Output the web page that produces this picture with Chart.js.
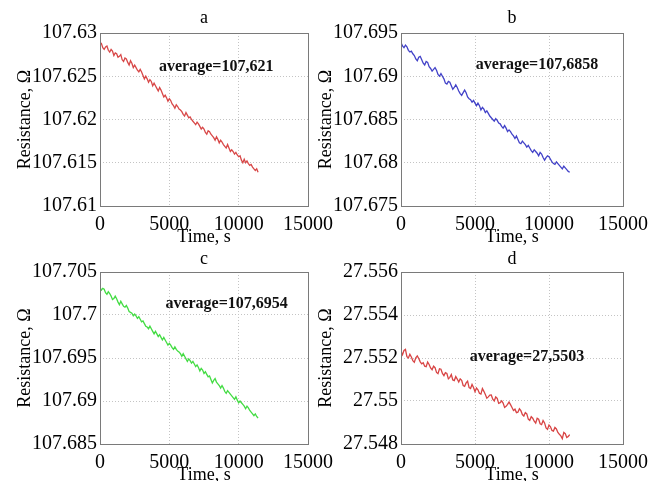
<!DOCTYPE html>
<html><head><meta charset="utf-8">
<script src="https://cdn.jsdelivr.net/npm/chart.js@4/dist/chart.umd.min.js"></script>
<style>
html,body{margin:0;padding:0;background:#fff;}
#wrap{position:relative;width:656px;height:481px;overflow:hidden;background:#fff;}
canvas{position:absolute;}
</style></head><body>
<div id="wrap">
<canvas id="ca" style="left:0px;top:0px;width:340px;height:248px" width="340" height="248"></canvas>
<canvas id="cb" style="left:300px;top:0px;width:356px;height:248px" width="356" height="248"></canvas>
<canvas id="cc" style="left:0px;top:240px;width:340px;height:250px" width="340" height="250"></canvas>
<canvas id="cd" style="left:300px;top:240px;width:356px;height:250px" width="356" height="250"></canvas>
</div>
<script>
// ---- data ----
const panelLetters = ['a', 'b', 'c', 'd'];
const averageLabels = ['average=107,621', 'average=107,6858', 'average=107,6954', 'average=27,5503'];
const xTitle = 'Time, s';
const yTitle = 'Resistance, \u03A9';

const timeS = [0,100,200,300,400,500,600,700,800,900,1000,1100,1200,1300,1400,1500,1600,1700,1800,1900,2000,2100,2200,2300,2400,2500,2600,2700,2800,2900,3000,3100,3200,3300,3400,3500,3600,3700,3800,3900,4000,4100,4200,4300,4400,4500,4600,4700,4800,4900,5000,5100,5200,5300,5400,5500,5600,5700,5800,5900,6000,6100,6200,6300,6400,6500,6600,6700,6800,6900,7000,7100,7200,7300,7400,7500,7600,7700,7800,7900,8000,8100,8200,8300,8400,8500,8600,8700,8800,8900,9000,9100,9200,9300,9400,9500,9600,9700,9800,9900,10000,10100,10200,10300,10400,10500,10600,10700,10800,10900,11000,11100,11200,11300,11400];

const resistA = [107.6287,107.6288,107.6283,107.6281,107.6284,107.6285,107.6280,107.6278,107.6281,107.6279,107.6274,107.6277,107.6276,107.6272,107.6273,107.6275,107.6269,107.6267,107.6271,107.6270,107.6266,107.6263,107.6268,107.6265,107.6260,107.6263,107.6260,107.6257,107.6255,107.6258,107.6255,107.6251,107.6247,107.6250,107.6247,107.6243,107.6246,107.6244,107.6239,107.6242,107.6239,107.6236,107.6233,107.6237,107.6234,107.6230,107.6226,107.6228,107.6225,107.6221,107.6224,107.6222,107.6218,107.6216,107.6213,107.6217,107.6215,107.6212,107.6211,107.6209,107.6206,107.6204,107.6208,107.6205,107.6202,107.6203,107.6200,107.6198,107.6196,107.6194,107.6197,107.6195,107.6192,107.6189,107.6191,107.6189,107.6185,107.6183,107.6187,107.6186,107.6183,107.6181,107.6179,107.6176,107.6180,107.6177,107.6173,107.6176,107.6174,107.6171,107.6169,107.6167,107.6171,107.6167,107.6163,107.6165,107.6163,107.6160,107.6162,107.6159,107.6157,107.6158,107.6153,107.6150,107.6154,107.6150,107.6152,107.6149,107.6147,107.6148,107.6145,107.6143,107.6141,107.6143,107.6139];

const resistB = [107.6939,107.6935,107.6933,107.6936,107.6934,107.6930,107.6928,107.6929,107.6926,107.6924,107.6920,107.6918,107.6922,107.6923,107.6919,107.6915,107.6913,107.6917,107.6916,107.6911,107.6909,107.6906,107.6908,107.6910,107.6907,107.6902,107.6900,107.6903,107.6900,107.6897,107.6892,107.6891,107.6894,107.6893,107.6889,107.6885,107.6887,107.6890,107.6887,107.6883,107.6880,107.6878,107.6881,107.6884,107.6881,107.6876,107.6874,107.6873,107.6870,107.6872,107.6869,107.6866,107.6869,107.6866,107.6861,107.6864,107.6862,107.6858,107.6860,107.6857,107.6854,107.6852,107.6850,107.6848,107.6851,107.6849,107.6846,107.6845,107.6842,107.6840,107.6843,107.6840,107.6836,107.6838,107.6836,107.6833,107.6831,107.6828,107.6831,107.6827,107.6823,107.6822,107.6825,107.6823,107.6821,107.6818,107.6820,107.6817,107.6814,107.6812,107.6815,107.6813,107.6811,107.6808,107.6812,107.6810,107.6806,107.6803,107.6806,107.6808,107.6807,107.6804,107.6801,107.6799,107.6798,107.6801,107.6799,107.6797,107.6795,107.6793,107.6796,107.6794,107.6792,107.6790,107.6789];

const resistC = [107.7032,107.7029,107.7031,107.7030,107.7026,107.7024,107.7027,107.7025,107.7022,107.7018,107.7019,107.7022,107.7019,107.7015,107.7012,107.7016,107.7013,107.7010,107.7009,107.7011,107.7008,107.7004,107.7003,107.7002,107.6999,107.7001,107.6999,107.6996,107.6998,107.6995,107.6992,107.6993,107.6990,107.6987,107.6986,107.6984,107.6987,107.6984,107.6981,107.6978,107.6981,107.6978,107.6975,107.6977,107.6974,107.6971,107.6974,107.6971,107.6968,107.6965,107.6967,107.6965,107.6962,107.6960,107.6963,107.6960,107.6958,107.6957,107.6955,107.6952,107.6955,107.6952,107.6949,107.6946,107.6949,107.6947,107.6944,107.6946,107.6943,107.6940,107.6942,107.6939,107.6935,107.6938,107.6936,107.6932,107.6934,107.6931,107.6928,107.6929,107.6925,107.6921,107.6924,107.6926,107.6922,107.6920,107.6918,107.6915,107.6918,107.6915,107.6911,107.6909,107.6912,107.6910,107.6908,107.6906,107.6904,107.6902,107.6905,107.6901,107.6898,107.6900,107.6898,107.6896,107.6894,107.6891,107.6894,107.6892,107.6889,107.6887,107.6885,107.6883,107.6885,107.6882,107.6880];

const resistD = [27.55230,27.55215,27.55235,27.55240,27.55206,27.55200,27.55217,27.55205,27.55188,27.55180,27.55201,27.55210,27.55198,27.55182,27.55173,27.55178,27.55162,27.55160,27.55181,27.55170,27.55154,27.55145,27.55162,27.55155,27.55133,27.55127,27.55150,27.55148,27.55128,27.55118,27.55132,27.55128,27.55103,27.55110,27.55123,27.55098,27.55095,27.55114,27.55102,27.55088,27.55103,27.55096,27.55072,27.55068,27.55084,27.55092,27.55062,27.55058,27.55077,27.55063,27.55043,27.55060,27.55052,27.55036,27.55032,27.55058,27.55045,27.55030,27.55013,27.55019,27.55027,27.55028,27.55008,27.55000,27.55019,27.55012,27.54989,27.54992,27.55001,27.54990,27.54970,27.54975,27.54984,27.54995,27.54983,27.54970,27.54956,27.54962,27.54946,27.54948,27.54964,27.54955,27.54937,27.54930,27.54946,27.54940,27.54916,27.54910,27.54927,27.54920,27.54906,27.54897,27.54920,27.54915,27.54894,27.54890,27.54909,27.54898,27.54875,27.54868,27.54888,27.54880,27.54863,27.54860,27.54877,27.54870,27.54854,27.54845,27.54838,27.54825,27.54854,27.54848,27.54830,27.54835,27.54844];

const xTicks = [0, 5000, 10000, 15000];
const yTicksA = [107.61, 107.615, 107.62, 107.625, 107.63];
const yTicksB = [107.675, 107.68, 107.685, 107.69, 107.695];
const yTicksC = [107.685, 107.69, 107.695, 107.7, 107.705];
const yTicksD = [27.548, 27.55, 27.552, 27.554, 27.556];

// annotation anchor positions (data coordinates)
const avgAnchorX = [8380, 9190, 9130, 8510];
const avgAnchorY = [107.6261, 107.6913, 107.7013, 27.55205];

// ---- rendering ----
const SERIF = '"Liberation Serif", "Times New Roman", serif';

const framePlugin = {
  id: 'frame',
  afterDraw(chart) {
    const {ctx, chartArea: a} = chart;
    ctx.save();
    ctx.strokeStyle = '#7a7a7a';
    ctx.lineWidth = 1;
    ctx.strokeRect(Math.round(a.left) + 0.5, Math.round(a.top) + 0.5,
                   Math.round(a.right - a.left), Math.round(a.bottom - a.top));
    ctx.restore();
  }
};
const avgPlugin = {
  id: 'avgLabel',
  afterDatasetsDraw(chart, args, opts) {
    const ctx = chart.ctx;
    const x = chart.scales.x.getPixelForValue(opts.x);
    const y = chart.scales.y.getPixelForValue(opts.y);
    ctx.save();
    ctx.font = 'bold 16px ' + SERIF;
    ctx.textAlign = 'center';
    ctx.textBaseline = 'middle';
    ctx.fillStyle = '#111';
    ctx.fillText(opts.text, x, y);
    ctx.restore();
  }
};

const panels = [
  {id: 'ca', values: resistA, color: '#d84848', yTicks: yTicksA, yW: 100, xH: 42, pad: {left: 0, right: 27, top: 0, bottom: 0}, tPad: {top: 7.5, bottom: 3.9}, yTitlePad: 14, xTitlePad: 0},
  {id: 'cb', values: resistB, color: '#4242c8', yTicks: yTicksB, yW: 101, xH: 42, pad: {left: 0, right: 33, top: 0, bottom: 0}, tPad: {top: 7.5, bottom: 3.9}, yTitlePad: 15, xTitlePad: 0},
  {id: 'cc', values: resistC, color: '#44dc44', yTicks: yTicksC, yW: 100, xH: 46, pad: {left: 0, right: 28, top: 0, bottom: 0}, tPad: {top: 8.5, bottom: 1.9}, yTitlePad: 14, xTitlePad: 4},
  {id: 'cd', values: resistD, color: '#d84444', yTicks: yTicksD, yW: 101, xH: 46, pad: {left: 0, right: 33, top: 0, bottom: 0}, tPad: {top: 8.5, bottom: 1.9}, yTitlePad: 15, xTitlePad: 4}
];

panels.forEach((p, i) => {
  const pts = timeS.map((t, k) => ({x: t, y: p.values[k]}));
  const yt = p.yTicks;
  new Chart(document.getElementById(p.id), {
    type: 'line',
    data: {datasets: [{data: pts, borderColor: p.color, borderWidth: 1.3, pointRadius: 0, tension: 0, fill: false}]},
    options: {
      responsive: false,
      animation: false,
      events: [],
      layout: {padding: p.pad},
      plugins: {
        legend: {display: false},
        tooltip: {enabled: false},
        title: {display: true, text: panelLetters[i], fullSize: false, color: '#000',
                font: {family: SERIF, size: 18, weight: 'normal'}, padding: p.tPad},
        avgLabel: {text: averageLabels[i], x: avgAnchorX[i], y: avgAnchorY[i]}
      },
      scales: {
        x: {
          type: 'linear', min: xTicks[0], max: xTicks[xTicks.length - 1],
          afterBuildTicks: s => { s.ticks = xTicks.map(v => ({value: v})); },
          afterFit: s => { s.height = p.xH; },
          ticks: {callback: v => String(v), color: '#000', font: {family: SERIF, size: 20}, padding: 7, maxRotation: 0, autoSkip: false},
          grid: {color: '#c4c4c4', lineWidth: 1, drawTicks: false},
          border: {display: false, dash: [1, 2]},
          title: {display: true, text: xTitle, color: '#000', font: {family: SERIF, size: 18}, padding: {top: 0, bottom: p.xTitlePad}}
        },
        y: {
          type: 'linear', min: yt[0], max: yt[yt.length - 1],
          afterBuildTicks: s => { s.ticks = yt.map(v => ({value: v})); },
          afterFit: s => { s.width = p.yW; },
          ticks: {callback: v => String(Number(Number(v).toFixed(6))), color: '#000', font: {family: SERIF, size: 20}, padding: 3, autoSkip: false},
          grid: {color: '#c4c4c4', lineWidth: 1, drawTicks: false},
          border: {display: false, dash: [1, 2]},
          title: {display: true, text: yTitle, color: '#000', font: {family: SERIF, size: 18}, padding: {top: p.yTitlePad, bottom: 0}}
        }
      }
    },
    plugins: [framePlugin, avgPlugin]
  });
});
</script>
</body></html>
